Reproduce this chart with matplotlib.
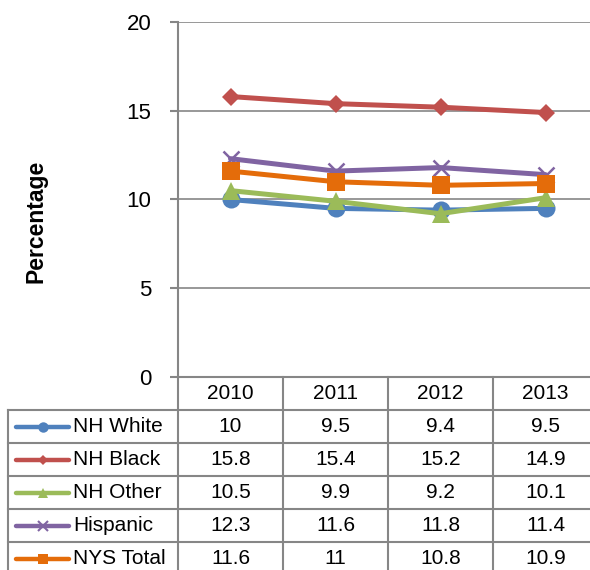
import matplotlib
matplotlib.use("Agg")
import matplotlib.pyplot as plt

plt.rcParams['font.family'] = ['Liberation Sans', 'DejaVu Sans']

years = ['2010', '2011', '2012', '2013']
groups = ['NH White', 'NH Black', 'NH Other', 'Hispanic', 'NYS Total']
nh_white = [10, 9.5, 9.4, 9.5]
nh_black = [15.8, 15.4, 15.2, 14.9]
nh_other = [10.5, 9.9, 9.2, 10.1]
hispanic = [12.3, 11.6, 11.8, 11.4]
nys_total = [11.6, 11, 10.8, 10.9]
series = [nh_white, nh_black, nh_other, hispanic, nys_total]

colors = ['#4F81BD', '#C0504D', '#9BBB59', '#8064A2', '#E46C0A']
markers = ['o', 'D', '^', 'x', 's']
msizes = [13, 9, 13, 12, 13]
leg_msizes = [7.5, 5.5, 7.5, 6.5, 7.5]
grid_c = '#868686'
W, H = 590, 570

fig = plt.figure(figsize=(W / 100, H / 100), dpi=100)

# plot area in pixels: x 178..598 (runs past the right edge), y 22..377
ax = fig.add_axes([178 / W, 1 - 377 / H, 420 / W, 355 / H])
for vals, c, m, ms in zip(series, colors, markers, msizes):
    ax.plot(range(len(years)), vals, color=c, lw=3.6, marker=m, ms=ms,
            mew=1.8 if m == 'x' else 0, mec=c, solid_capstyle='round', zorder=3)
ax.set_xlim(-0.5, len(years) - 0.5)
ax.set_ylim(0, 20)
ax.set_yticks([0, 5, 10, 15, 20])
ax.yaxis.grid(True, color=grid_c, lw=1.2)
ax.set_axisbelow(True)
ax.set_xticks([])
ax.tick_params(axis='y', direction='out', length=6, width=1.5, color=grid_c,
               labelsize=16, pad=13)
for s in ['top', 'right']:
    ax.spines[s].set_visible(False)
for s in ['left', 'bottom']:
    ax.spines[s].set_color(grid_c)
    ax.spines[s].set_linewidth(1.5)

fig.text(36 / W, 1 - 221 / H, 'Percentage', rotation=90, ha='center',
         va='center', fontsize=16.5, fontweight='bold')

# data table underneath, drawn in pixel coordinates
tb = fig.add_axes([0, 0, 1, 1])
tb.set_xlim(0, W)
tb.set_ylim(H, 0)
tb.axis('off')
col_w = 105
x0, top, row_h = 178, 377, 33
lk = dict(color=grid_c, lw=1.5)
tb.plot([x0, x0], [top, H], **lk)
tb.plot([8, 8], [top + row_h, H], **lk)
for i in range(1, len(years) + 1):
    tb.plot([x0 + i * col_w] * 2, [top, H], **lk)
for r in range(1, len(groups) + 1):
    tb.plot([8, W], [top + r * row_h] * 2, **lk)

for i, y in enumerate(years):
    tb.text(x0 + (i + 0.5) * col_w, top + row_h / 2, y, ha='center',
            va='center', fontsize=15)
for r, (g, vals) in enumerate(zip(groups, series)):
    yc = top + (r + 1.5) * row_h
    tb.plot([16, 69], [yc, yc], color=colors[r], lw=3.2,
            solid_capstyle='round')
    tb.plot([42.5], [yc], color=colors[r], marker=markers[r],
            ms=leg_msizes[r], mew=1.5 if markers[r] == 'x' else 0,
            mec=colors[r])
    tb.text(73, yc, g, ha='left', va='center', fontsize=15)
    for i, v in enumerate(vals):
        tb.text(x0 + (i + 0.5) * col_w, yc, f'{v:g}', ha='center',
                va='center', fontsize=15)

fig.savefig('out.png', dpi=100)
